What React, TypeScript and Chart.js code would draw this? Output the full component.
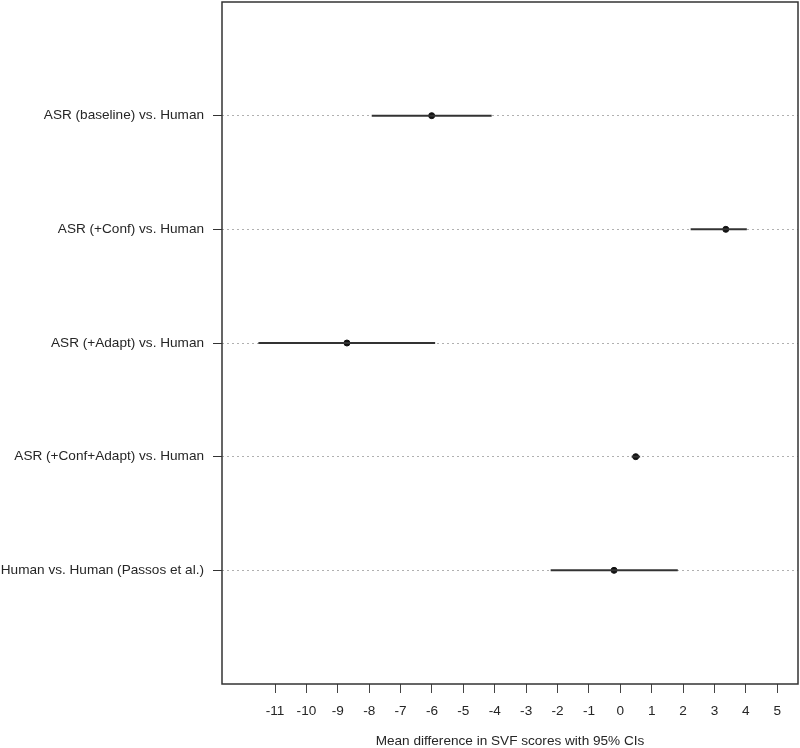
import React, { useEffect, useRef } from "react";
import { Chart, registerables } from "chart.js";

Chart.register(...registerables);

const comparisons = [
  "ASR (baseline) vs. Human",
  "ASR (+Conf) vs. Human",
  "ASR (+Adapt) vs. Human",
  "ASR (+Conf+Adapt) vs. Human",
  "Human vs. Human (Passos et al.)",
];
const meanDiff = [-6.01, 3.36, -8.71, 0.49, -0.2];
const ciLower = [-7.92, 2.24, -11.53, 0.36, -2.22];
const ciUpper = [-4.1, 4.03, -5.9, 0.63, 1.83];
const xTickValues = [-11, -10, -9, -8, -7, -6, -5, -4, -3, -2, -1, 0, 1, 2, 3, 4, 5];
const xTitle = "Mean difference in SVF scores with 95% CIs";

const FONT = { family: "'Liberation Sans', Arial, sans-serif", size: 13.6 };
const TEXT = "#262626";

const boxPlugin = {
  id: "boxPlugin",
  afterDraw(chart: any) {
    const { ctx, chartArea } = chart;
    ctx.save();
    ctx.strokeStyle = "#333";
    ctx.lineWidth = 1.5;
    ctx.strokeRect(
      chartArea.left,
      chartArea.top,
      chartArea.right - chartArea.left,
      chartArea.bottom - chartArea.top
    );
    ctx.restore();
  },
};

const zeroPad = (scale: any) => {
  scale.paddingTop = 0;
  scale.paddingBottom = 0;
  scale.paddingLeft = 0;
  scale.paddingRight = 0;
};

export default function App() {
  const ref = useRef<HTMLCanvasElement | null>(null);

  useEffect(() => {
    if (!ref.current) return;
    const ciSets = comparisons.map((c, i) => ({
      type: "line" as const,
      label: c + " CI",
      data: [
        { x: ciLower[i], y: i + 1 },
        { x: ciUpper[i], y: i + 1 },
      ],
      borderColor: "#333",
      borderWidth: 2,
      pointRadius: 0,
      showLine: true,
      fill: false,
    }));
    const chart = new Chart(ref.current, {
      type: "scatter",
      data: {
        datasets: [
          ...ciSets,
          {
            type: "scatter" as const,
            label: "Mean",
            data: meanDiff.map((m, i) => ({ x: m, y: i + 1 })),
            backgroundColor: "#111",
            borderColor: "#111",
            pointRadius: 3,
          },
        ] as any,
      },
      options: {
        animation: false,
        responsive: false,
        devicePixelRatio: 1,
        layout: { autoPadding: false, padding: { left: 0, right: 2, top: 2, bottom: 0 } },
        plugins: {
          legend: { display: false },
          tooltip: { enabled: false },
        },
        scales: {
          x: {
            type: "linear",
            min: -12.69,
            max: 5.66,
            afterBuildTicks: (scale: any) => {
              scale.ticks = xTickValues.map((v) => ({ value: v }));
            },
            afterFit: (scale: any) => {
              scale.height = 64;
              zeroPad(scale);
            },
            border: { display: false },
            grid: {
              drawOnChartArea: false,
              drawTicks: true,
              tickLength: 9,
              tickColor: "#444",
              tickWidth: 1,
            },
            ticks: {
              font: FONT,
              color: TEXT,
              padding: 10,
              maxRotation: 0,
              autoSkip: false,
              callback: (v: any) => String(v),
            },
            title: {
              display: true,
              text: xTitle,
              font: { ...FONT, lineHeight: 1 },
              color: TEXT,
              padding: { top: 0, bottom: 0 },
            },
          },
          y: {
            type: "linear",
            min: 0,
            max: 6,
            reverse: true,
            afterBuildTicks: (scale: any) => {
              scale.ticks = comparisons.map((_, i) => ({ value: i + 1 }));
            },
            afterFit: (scale: any) => {
              scale.width = 222;
              zeroPad(scale);
            },
            border: { display: false, dash: [2, 3] },
            grid: {
              color: "#b0b0b0",
              lineWidth: 1,
              drawTicks: true,
              tickLength: 9,
              tickColor: "#333",
              tickWidth: 1,
              tickBorderDash: [],
            },
            ticks: {
              font: FONT,
              color: TEXT,
              padding: 9,
              autoSkip: false,
              callback: (v: any) => comparisons[Number(v) - 1] ?? "",
            },
          },
        },
      },
      plugins: [boxPlugin],
    });
    return () => chart.destroy();
  }, []);

  return (
    <div style={{ position: "absolute", left: 0, top: 0, width: 800, height: 748, background: "#fff" }}>
      <canvas ref={ref} width={800} height={748} style={{ width: 800, height: 748, display: "block" }} />
    </div>
  );
}
